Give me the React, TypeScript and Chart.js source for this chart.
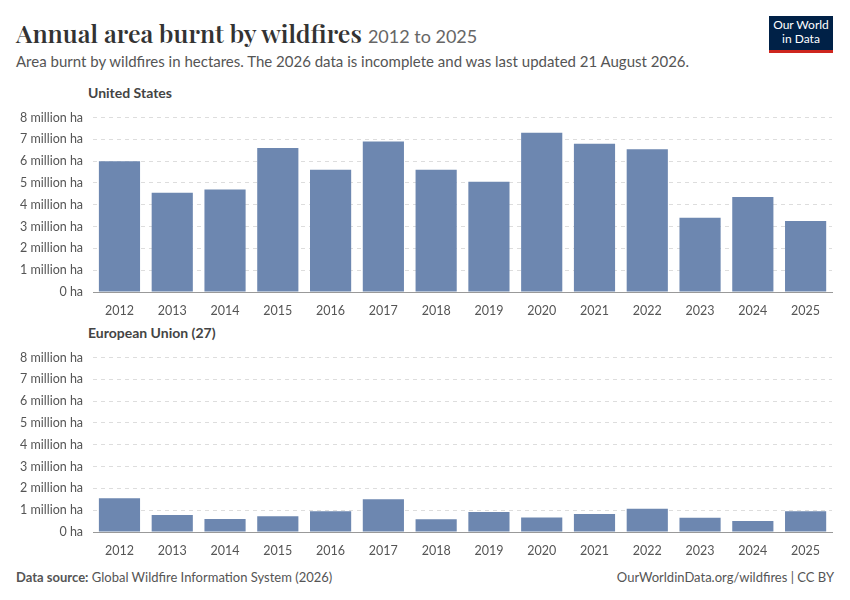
import React, { useEffect, useRef } from "react";
import { Chart, registerables } from "chart.js";
Chart.register(...registerables);

const years = ["2012","2013","2014","2015","2016","2017","2018","2019","2020","2021","2022","2023","2024","2025"];
const usValues = [6.0,4.55,4.7,6.6,5.6,6.9,5.6,5.05,7.3,6.8,6.55,3.4,4.35,3.25].map(v=>v*1e6);
const euValues = [1.55,0.78,0.6,0.72,0.95,1.5,0.58,0.92,0.66,0.82,1.07,0.65,0.5,0.95].map(v=>v*1e6);

const FONT = "Lato, 'Noto Sans', sans-serif";

function Panel({ values, top }: { values: number[]; top: number }) {
  const ref = useRef<HTMLCanvasElement>(null);
  useEffect(() => {
    const c = new Chart(ref.current!, {
      type: "bar",
      data: { labels: years, datasets: [{ data: values, backgroundColor: "#6d87b0", barPercentage: 0.78, categoryPercentage: 1 }] },
      options: {
        animation: false, responsive: false, maintainAspectRatio: false,
        plugins: { legend: { display: false }, tooltip: { enabled: false } },
        layout: { padding: { top: 1, right: 4 } },
        scales: {
          x: { grid: { display: false }, border: { color: "#999" }, ticks: { color: "#555", font: { family: FONT, size: 12.5 } } },
          y: { min: 0, max: 8e6, border: { display: false, dash: [4, 4] },
            grid: { color: "#ddd", tickLength: 0 },
            ticks: { stepSize: 1e6, padding: 10, color: "#555", font: { family: FONT, size: 12.5 },
              callback: (v: any) => (v === 0 ? "0 ha" : `${v / 1e6} million ha`) } },
        },
      },
    });
    return () => c.destroy();
  }, []);
  return <canvas ref={ref} width={826} height={221} style={{ position: "absolute", left: 10, top }} />;
}

export default function App() {
  return (
    <div style={{ position: "absolute", left: 0, top: 0, width: 850, height: 600, background: "#fff", fontFamily: FONT, color: "#333" }}>
      <div style={{ position: "absolute", left: 16, top: 16, fontSize: 25, fontWeight: 600, fontFamily: "'Playfair Display', 'DejaVu Serif', serif", color: "#333" }}>
        Annual area burnt by wildfires <span style={{ fontSize: 18, fontWeight: 400, color: "#666", fontFamily: FONT }}>2012 to 2025</span>
      </div>
      <div style={{ position: "absolute", left: 16, top: 52, fontSize: 15, color: "#555" }}>
        Area burnt by wildfires in hectares. The 2026 data is incomplete and was last updated 21 August 2026.
      </div>
      <div style={{ position: "absolute", left: 769, top: 16, width: 64, height: 32, background: "#002147", borderBottom: "3px solid #ce261e", color: "#fff", fontSize: 12, lineHeight: "14px", textAlign: "center", paddingTop: 2 }}>
        Our World<br />in Data
      </div>
      <div style={{ position: "absolute", left: 88, top: 84, fontSize: 14, fontWeight: 700, color: "#444" }}>United States</div>
      <Panel values={usValues} top={100} />
      <div style={{ position: "absolute", left: 88, top: 324, fontSize: 14, fontWeight: 700, color: "#444" }}>European Union (27)</div>
      <Panel values={euValues} top={340} />
      <div style={{ position: "absolute", left: 16, top: 569, fontSize: 13, color: "#555" }}>
        <b>Data source:</b> Global Wildfire Information System (2026)
      </div>
      <div style={{ position: "absolute", right: 16, top: 569, fontSize: 13, color: "#555" }}>
        OurWorldinData.org/wildfires | CC BY
      </div>
    </div>
  );
}
